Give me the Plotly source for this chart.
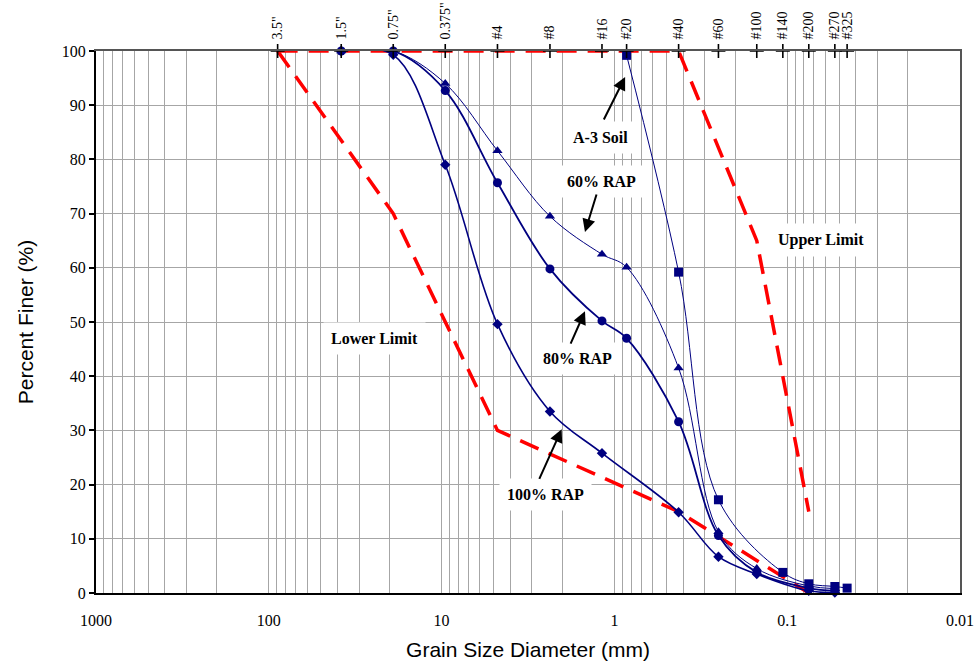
import math
import plotly.graph_objects as go

# Sieve designations and openings (mm) shown along the top axis
sieve_labels = ['3.5"', '1.5"', '0.75"', '0.375"', '#4', '#8', '#16', '#20',
                '#40', '#60', '#100', '#140', '#200', '#270', '#325']
sieve_mm = [88.9, 38.1, 19.05, 9.525, 4.75, 2.36, 1.18, 0.85,
            0.425, 0.25, 0.15, 0.106, 0.075, 0.053, 0.045]

# Gradation curves (percent finer by sieve size)
a3_mm = [0.85, 0.425, 0.25, 0.106, 0.075, 0.053, 0.045]
a3_pct = [99.2, 59.2, 17.2, 3.8, 1.7, 1.2, 0.9]

rap_mm = [38.1, 19.05, 9.525, 4.75, 2.36, 1.18, 0.85, 0.425, 0.25, 0.15, 0.075, 0.053]
rap60_pct = [100, 100, 94.0, 81.6, 69.5, 62.5, 60.1, 41.5, 11.3, 4.5, 1.3, 0.8]
rap80_pct = [100, 100, 92.7, 75.7, 59.8, 50.2, 47.0, 31.6, 10.6, 3.8, 0.9, 0.4]

rap100_mm = [38.1, 19.05, 9.525, 4.75, 2.36, 1.18, 0.425, 0.25, 0.15, 0.075, 0.053]
rap100_pct = [100, 99.3, 79.0, 49.6, 33.5, 25.8, 14.9, 6.7, 3.5, 0.4, 0.1]

# Specification band
upper_mm = [88.9, 0.425, 0.15, 0.075]
upper_pct = [100, 100, 65, 15]
lower_mm = [88.9, 19.05, 4.75, 0.425, 0.075]
lower_pct = [100, 70, 30, 15, 0]

# Axis ticks
decade_vals = [1000, 100, 10, 1, 0.1, 0.01]
decade_text = ["1000", "100", "10", "1", "0.1", "0.01"]
minor_vals = [k * 10 ** e for e in range(-2, 3) for k in range(2, 10)]
y_ticks = list(range(0, 101, 10))

NAVY = "#000080"
RED = "#FF0000"
GRID = "#A6A6A6"
SERIF = "Liberation Serif, Times New Roman, serif"
SANS = "Liberation Sans, Arial, sans-serif"

fig = go.Figure()

for sizes, pcts in [(upper_mm, upper_pct), (lower_mm, lower_pct)]:
    fig.add_trace(go.Scatter(
        x=sizes, y=pcts, mode="lines",
        line=dict(color=RED, width=3.5, dash="20px,11px"),
        cliponaxis=False, showlegend=False, hoverinfo="skip"))


def add_curve(sizes, pcts, symbol, msize, lw):
    fig.add_trace(go.Scatter(
        x=sizes, y=pcts, mode="lines+markers",
        line=dict(color=NAVY, width=lw, shape="spline"),
        marker=dict(symbol=symbol, size=msize, color=NAVY),
        cliponaxis=False, showlegend=False))


add_curve(a3_mm, a3_pct, "square", 9, 1)
add_curve(rap100_mm, rap100_pct, "diamond", 8, 1.6)
add_curve(rap_mm, rap60_pct, "triangle-up", 9, 1)
add_curve(rap_mm, rap80_pct, "circle", 9, 1.8)

# Sieve tick crosses on the 100 % line (top axis)
fig.add_trace(go.Scatter(
    x=sieve_mm, y=[100] * len(sieve_mm), mode="markers",
    marker=dict(symbol="cross-thin", size=10, line=dict(color="black", width=1.6)),
    xaxis="x2", yaxis="y2", cliponaxis=False, showlegend=False, hoverinfo="skip"))

# Curve labels
labels = [
    ("A-3 Soil", 1.21, 84.1),
    ("60% RAP", 1.19, 76.0),
    ("80% RAP", 1.64, 43.2),
    ("100% RAP", 2.52, 18.1),
    ("Upper Limit", 0.0635, 65.1),
    ("Lower Limit", 24.3, 46.9),
]
annotations = []
for text, mm, pct in labels:
    annotations.append(dict(
        text=f"<b>{text}</b>", x=math.log10(mm), y=pct, xref="x", yref="y",
        showarrow=False, bgcolor="white", borderpad=7,
        font=dict(family=SERIF, size=16, color="black")))

# Pointer arrows: head (mm, %) and tail offset in pixels
arrows = [
    (0.867, 95.2, -22, 44),
    (1.48, 66.6, 12, -39),
    (1.48, 52.0, -15, 34),
    (2.02, 30.2, -23, 51),
]
for mm, pct, ax, ay in arrows:
    annotations.append(dict(
        text="", x=math.log10(mm), y=pct, xref="x", yref="y",
        showarrow=True, arrowhead=2, arrowsize=1.3, arrowwidth=2,
        arrowcolor="black", ax=ax, ay=ay, standoff=0))

fig.update_layout(
    width=974, height=669,
    margin=dict(l=96, r=14, t=51, b=76),
    paper_bgcolor="white", plot_bgcolor="white",
    showlegend=False,
    annotations=annotations,
    xaxis=dict(
        type="log", range=[3, -2], automargin=False,
        tickvals=decade_vals, ticktext=decade_text,
        tickfont=dict(family=SERIF, size=16, color="black"),
        ticks="outside", ticklen=12, tickcolor="rgba(0,0,0,0)",
        showgrid=True, gridcolor=GRID, gridwidth=1,
        minor=dict(tickvals=minor_vals, showgrid=True, gridcolor=GRID,
                   gridwidth=1, ticks=""),
        showline=True, linecolor="black", linewidth=2,
        zeroline=False,
        title=dict(text="Grain Size Diameter (mm)", standoff=14,
                   font=dict(family=SANS, size=21, color="black")),
    ),
    xaxis2=dict(
        type="log", range=[3, -2], overlaying="x", side="top", automargin=False,
        tickvals=sieve_mm, ticktext=sieve_labels, tickangle=-90,
        tickfont=dict(family=SERIF, size=14, color="black"),
        ticks="outside", ticklen=7, tickcolor="rgba(0,0,0,0)",
        showgrid=False, zeroline=False,
        showline=True, linecolor="#555555", linewidth=1.5,
    ),
    yaxis=dict(
        range=[0, 100], tickvals=y_ticks, automargin=False,
        tickfont=dict(family=SERIF, size=16, color="black"),
        ticks="outside", ticklen=5, tickcolor="black", tickwidth=1.5,
        showgrid=True, gridcolor=GRID, gridwidth=1,
        showline=True, linecolor="black", linewidth=2,
        zeroline=False,
        title=dict(text="Percent Finer (%)", standoff=22,
                   font=dict(family=SANS, size=21, color="black")),
    ),
    yaxis2=dict(
        range=[0, 100], overlaying="y", side="right", automargin=False,
        showticklabels=False, ticks="", showgrid=False, zeroline=False,
        showline=True, linecolor="#555555", linewidth=1.5,
    ),
)

fig.write_html("out.html")
